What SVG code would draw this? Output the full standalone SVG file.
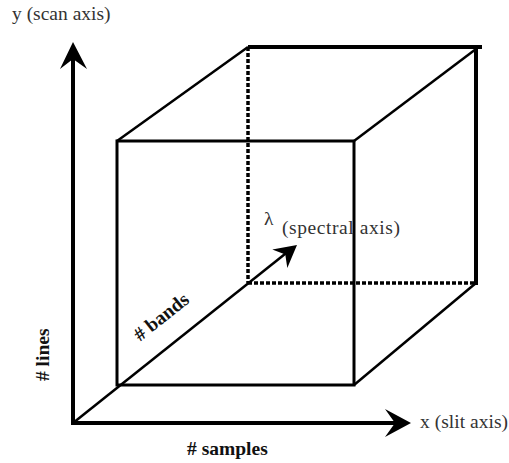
<svg xmlns="http://www.w3.org/2000/svg" width="509" height="463" viewBox="0 0 509 463">
<style>
.ln{stroke:#000;fill:none;stroke-linecap:butt}
.ax{stroke-width:4}
.ed{stroke-width:3}
.dg{stroke-width:2.5}
.dt{stroke-width:3.5;stroke-dasharray:4 2}
.hd{fill:#000;stroke:none}
.t{font-family:"Liberation Serif","Times New Roman",serif;font-size:19.5px;fill:#333}
.b{font-family:"Liberation Serif","Times New Roman",serif;font-size:19.5px;font-weight:bold;fill:#111}
</style>
<rect width="509" height="463" fill="#fff"/>
<g id="connectors">
  <g id="y-axis">
    <line class="ln ax" x1="73" y1="425" x2="73" y2="55"/>
    <path class="hd" d="M73,42 L87,69 L73,59 L60,69 Z"/>
  </g>
  <g id="x-axis">
    <line class="ln ax" x1="71" y1="423" x2="398" y2="423"/>
    <path class="hd" d="M411,423 L385,437 L395,423 L385,409 Z"/>
  </g>
  <g id="lambda-axis">
    <line class="ln dg" x1="73" y1="423" x2="290" y2="250"/>
    <path class="hd" d="M297,245 L287.3,268.1 L285.3,254.4 L272.3,249.4 Z"/>
  </g>
</g>
<g id="cube">
  <rect class="ln ed" x="117" y="141" width="237" height="244"/>
  <line class="ln ax" x1="248" y1="47" x2="482" y2="47"/>
  <line class="ln ax" x1="476" y1="45" x2="476" y2="285"/>
  <line class="ln dt" x1="248" y1="47" x2="248" y2="283"/>
  <line class="ln dt" x1="248" y1="283" x2="476" y2="283"/>
  <line class="ln dg" x1="117" y1="141" x2="248" y2="47"/>
  <line class="ln dg" x1="354" y1="141" x2="476" y2="49"/>
  <line class="ln dg" x1="354" y1="385" x2="476" y2="283"/>
</g>
<g id="labels">
  <text class="t" x="12" y="20">y (scan axis)</text>
  <text class="t" x="420" y="428" textLength="88">x (slit axis)</text>
  <text class="t" x="264" y="225">λ</text>
  <text class="t" x="282" y="234" textLength="118">(spectral axis)</text>
  <text class="b" transform="translate(49,381) rotate(-90)"># lines</text>
  <text class="b" transform="translate(140,342) rotate(-38.7)"># bands</text>
  <text class="b" x="187" y="455"># samples</text>
</g>
</svg>
